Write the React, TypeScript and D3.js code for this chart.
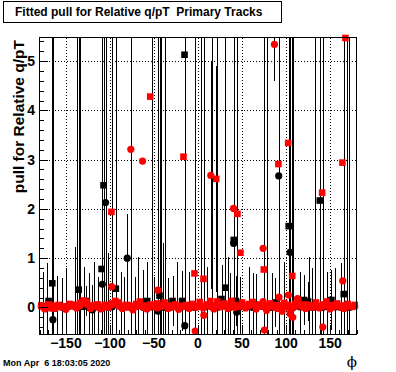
import React from "react";
import * as d3 from "d3";

// phi bins of the dense band near zero
const bandPhi = [
  -178, -174, -170, -166, -162, -158, -154, -150, -146, -142, -138, -134, -130, -126, -122,
  -118, -114, -110, -106, -102, -98, -94, -90, -86, -82, -78, -74, -70, -66, -62, -58, -54,
  -50, -46, -42, -38, -34, -30, -26, -22, -18, -14, -10, -6, -2, 2, 6, 10, 14, 18, 22, 26,
  30, 34, 38, 42, 46, 50, 54, 58, 62, 66, 70, 74, 78, 82, 86, 90, 94, 98, 102, 106, 110,
  114, 118, 122, 126, 130, 134, 138, 142, 146, 150, 154, 158, 162, 166, 170, 174, 178,
];
const redCircBand = [
  0.02, -0.03, 0.01, 0.04, -0.02, 0.03, 0.0, -0.04, 0.02, 0.05,
  -0.01, 0.03, 0.1, 0.06, -0.02, 0.04, 0.01, -0.03, 0.02, 0.0,
  0.05, 0.08, 0.03, -0.02, 0.01, 0.04, -0.05, 0.02, 0.06, 0.0,
  -0.03, 0.03, 0.01, -0.01, 0.02, 0.05, -0.02, 0.0, 0.03, -0.04,
  0.01, 0.02, -0.02, 0.04, 0.0, 0.03, -0.01, 0.05, 0.02, -0.03,
  0.06, 0.01, 0.03, -0.02, 0.04, 0.0, 0.02, 0.05, -0.01, 0.03,
  0.09, -0.03, 0.02, 0.12, -0.06, 0.04, 0.01, -0.02, 0.03, 0.05,
  0.0, -0.04, 0.02, 0.06, 0.01, -0.02, 0.04, 0.0, 0.03, -0.01,
  0.02, 0.05, -0.03, 0.01, 0.04, 0.0, -0.02, 0.03, 0.01, 0.02,
];
const redSqBand = [
  0.04, 0.01, 0.06, -0.02, 0.03, 0.05, 0.02, 0.0, 0.07, 0.03,
  0.05, 0.09, 0.14, 0.11, 0.04, 0.02, 0.06, 0.01, 0.05, 0.03,
  0.08, 0.13, 0.1, 0.02, 0.05, 0.0, 0.03, 0.07, 0.12, 0.04,
  0.01, 0.06, 0.03, 0.08, 0.02, 0.1, 0.04, 0.01, 0.06, 0.03,
  0.02, 0.05, 0.0, 0.07, 0.03, 0.11, 0.02, 0.06, 0.13, 0.04,
  0.12, 0.03, 0.08, 0.01, 0.13, 0.05, 0.02, 0.1, 0.04, 0.07,
  0.11, 0.03, 0.06, 0.02, 0.04, 0.08, 0.01, 0.05, 0.03, 0.09,
  0.05, 0.02, 0.07, 0.12, 0.03, 0.06, 0.01, 0.04, 0.1, 0.03,
  0.06, 0.12, 0.02, 0.05, 0.08, 0.03, 0.04, 0.07, 0.02, 0.05,
];

// [phi, pull, error]
const blackSquares: [number, number, number][] = [
  [-15.3, 5.13, 8], [-107.3, 2.48, 6], [-109.5, 0.78, 6], [-165.5, 0.49, 6],
  [-93.3, 0.38, 6], [-169.7, 0.13, 0], [-135.5, 0.36, 6], [-127.7, 0.13, 0.3],
  [-43.7, 0.24, 6], [-57.7, 0.13, 0.8], [-28.9, 0.13, 0.5], [-18, 0.13, 0.6],
  [30.9, 0.4, 6], [40.6, 1.37, 6], [26.7, 0.17, 0.7], [43, 0.13, 0.5],
  [138.3, 2.17, 6], [103, 1.65, 6], [120.5, 0.15, 0.5], [151.5, 0.15, 0.6],
  [165.5, 0.27, 6], [88, 0.1, 0.5], [125, 0.12, 0.4],
];
const blackCircles: [number, number, number][] = [
  [-164.8, -0.25, 6], [-105, 2.13, 6], [-108.7, 0.47, 1.5], [-80.4, 1.0, 0.9],
  [-45.3, -0.08, 6], [-15, -0.37, 6], [91.7, 2.67, 6], [104.6, 1.12, 6],
  [40.5, 1.3, 0.4], [44, -0.1, 6], [107, 0.0, 6], [-120, -0.05, 0.5],
];
// hidden black points inside the band, seen only through their error bars
const blackBand: [number, number, number][] = [
  [-176, 0.02, 0.7], [-172, 0.0, 0.9], [-160, 0.03, 0.6], [-150, 0.01, 0.8],
  [-140, 0.02, 1.2], [-137.5, 0.0, 6], [-134, 0.01, 6], [-124, 0.0, 0.7],
  [-118, 0.03, 0.9], [-114, 0.01, 0.6], [-102, 0.0, 1.1], [-97.7, 0.01, 6],
  [-88, 0.02, 0.7], [-76, 0.0, 6], [-72, 0.01, 0.6], [-68, 0.03, 1.0],
  [-62, 0.0, 0.75], [-52.6, 0.01, 6], [-50, 0.02, 0.6], [-42.4, 0.0, 6],
  [-40, 0.01, 1.3], [-37, 0.0, 6], [-34, 0.0, 0.6], [-24, 0.02, 0.9],
  [-10, 0.01, 0.7], [-3.7, 0.0, 6], [3.4, 0.02, 6], [6.8, 0.0, 6],
  [10, 0.03, 0.8], [16.2, 0.01, 6], [21.9, 0.0, 6], [34, 0.02, 1.0],
  [36, 0.0, 0.7], [48, 0.01, 0.6], [58, 0.02, 0.8],
  [62, 0.0, 0.7], [66, 0.03, 0.65], [75.3, 0.01, 6], [78, 0.01, 6],
  [84, 0.0, 0.7], [98, 0.02, 0.9], [108.2, 0.0, 6], [116, 0.01, 0.7],
  [126, 0.02, 1.0], [130, 0.0, 0.8], [133.2, 0.01, 6], [141.6, 0.0, 6],
  [146, 0.02, 0.7], [156, 0.01, 0.8], [162, 0.0, 0.9], [168.9, 0.02, 6],
  [171.8, 0.0, 6], [-154, 0.0, 0.6], [-130, 0.02, 0.8], [-84, 0.01, 0.6],
];
const redSquares: [number, number, number][] = [
  [167.4, 5.47, 0], [-54.3, 4.28, 0], [-16.5, 3.06, 0], [20.7, 2.61, 2.3],
  [91.3, 2.91, 0], [102.4, 3.34, 0], [164, 2.94, 0], [141, 2.33, 0],
  [-98.3, 1.94, 0], [44.8, 1.9, 0], [48.2, 1.11, 0], [-4, 0.69, 0],
  [6.2, 0.58, 0], [74.7, 0.77, 0], [107, 0.64, 0],
];
const redCircles: [number, number, number][] = [
  [86.8, 5.34, 0.74], [14.5, 2.68, 2.3], [-76.3, 3.21, 0.7], [-63, 2.97, 0],
  [40.4, 2.01, 0], [74, 1.2, 0], [75.5, -0.46, 0], [141.7, -0.4, 0],
  [164.4, 0.54, 0], [-98, 0.42, 0], [-45.6, 0.35, 0], [-3.2, -0.48, 0],
  [6.6, -0.16, 0], [92, 0.21, 0], [102.7, 0.25, 0], [113, 0.18, 0],
  [95.5, -0.08, 0], [104.6, -0.13, 0], [107.6, -0.2, 0],
];

const xMajor = [-150, -100, -50, 0, 50, 100, 150];
const yMajor = [0, 1, 2, 3, 4, 5];
const titleText = "Fitted pull for Relative q/pT  Primary Tracks";
const yTitle = "pull for Relative q/pT";
const xTitle = "\u03d5";
const dateText = "Mon Apr  6 18:03:05 2020";

const W = 396;
const H = 372;
const F = { left: 39.5, right: 356.5, top: 37.5, bottom: 334 };

export default function App() {
  const x = d3.scaleLinear().domain([-180, 180]).range([F.left, F.right]);
  const y = d3.scaleLinear().domain([-0.54, 5.48]).range([F.bottom, F.top]);
  const xMinor = d3.range(-180, 181, 10);
  const yMinor = d3.range(-0.4, 5.41, 0.2);
  const px = (v: number) => Math.round(x(v)) + 0.5;
  const py = (v: number) => Math.round(y(v)) + 0.5;
  const font = "'Liberation Sans', Arial, Helvetica, sans-serif";

  const redBandC = bandPhi.map((p, i) => [p, redCircBand[i], 0] as [number, number, number]);
  const redBandS = bandPhi.map((p, i) => [p, redSqBand[i], 0] as [number, number, number]);

  const errBars = (pts: [number, number, number][]) =>
    pts
      .filter((d) => d[2] > 0)
      .map((d, i) => (
        <line key={i} x1={px(d[0])} x2={px(d[0])} y1={y(d[1] - d[2])} y2={y(d[1] + d[2])}
          stroke="#000" strokeWidth={1} shapeRendering="crispEdges" />
      ));
  const circles = (pts: [number, number, number][], color: string) =>
    pts.map((d, i) => <circle key={i} cx={x(d[0])} cy={y(d[1])} r={3.6} fill={color} />);
  const squares = (pts: [number, number, number][], color: string) =>
    pts.map((d, i) => (
      <rect key={i} x={x(d[0]) - 3.3} y={y(d[1]) - 3.3} width={6.6} height={6.6} fill={color} />
    ));

  return (
    <svg width={W} height={H} style={{ position: "absolute", left: 0, top: 0, background: "#fff" }}
      fontFamily={font}>
      <defs>
        <clipPath id="frame">
          <rect x={F.left} y={F.top} width={F.right - F.left} height={F.bottom - F.top} />
        </clipPath>
      </defs>
      <rect width={W} height={H} fill="#fff" />

      {/* grid */}
      <g stroke="#000" strokeWidth={1} strokeDasharray="1 2" shapeRendering="crispEdges">
        {xMajor.map((t) => (
          <line key={t} x1={px(t)} x2={px(t)} y1={F.top} y2={F.bottom} />
        ))}
        {yMajor.map((t) => (
          <line key={t} x1={F.left} x2={F.right} y1={py(t)} y2={py(t)} />
        ))}
      </g>

      {/* error bars */}
      <g clipPath="url(#frame)">
        {errBars(blackBand)}
        {errBars(blackSquares)}
        {errBars(blackCircles)}
        {errBars(redSquares)}
        {errBars(redCircles)}
      </g>

      {/* markers */}
      <g>
        {circles(blackBand, "#000")}
        {squares(blackSquares, "#000")}
        {circles(blackCircles, "#000")}
        {circles(redBandC, "#ff0000")}
        {squares(redBandS, "#ff0000")}
        {squares(redSquares, "#ff0000")}
        {circles(redCircles, "#ff0000")}
      </g>

      {/* frame */}
      <rect x={F.left} y={F.top} width={F.right - F.left} height={F.bottom - F.top}
        fill="none" stroke="#000" strokeWidth={1} shapeRendering="crispEdges" />

      {/* axis ticks */}
      <g stroke="#000" strokeWidth={1} shapeRendering="crispEdges">
        {xMinor.map((t) => (
          <line key={"xm" + t} x1={px(t)} x2={px(t)} y1={F.bottom}
            y2={F.bottom - (t % 50 === 0 ? 9 : 4.5)} />
        ))}
        {xMajor.map((t) => (
          <line key={"xM" + t} x1={px(t)} x2={px(t)} y1={F.bottom} y2={F.bottom - 9} />
        ))}
        {yMinor.map((t, i) => (
          <line key={"ym" + i} x1={F.left} x2={F.left + 4} y1={py(t)} y2={py(t)} />
        ))}
        {yMajor.map((t) => (
          <line key={"yM" + t} x1={F.left} x2={F.left + 8} y1={py(t)} y2={py(t)} />
        ))}
      </g>

      {/* tick labels */}
      <g fontSize={14} fontWeight="bold" fill="#000">
        {xMajor.map((t) => (
          <text key={t} x={x(t)} y={348} textAnchor="middle">
            {t < 0 ? "\u2212" + Math.abs(t) : String(t)}
          </text>
        ))}
        {yMajor.map((t) => (
          <text key={t} x={35} y={y(t) + 5} textAnchor="end">{t}</text>
        ))}
      </g>

      {/* axis titles */}
      <text transform="translate(24,40) rotate(-90)" textAnchor="end" fontSize={15.5}
        fontWeight="bold">{yTitle}</text>
      <text x={357} y={367} textAnchor="end" fontSize={15}
        fontFamily="'DejaVu Serif', 'Liberation Serif', serif">
        {xTitle}
      </text>

      {/* title box */}
      <rect x={3.5} y={1.5} width={278} height={21} fill="#fff" stroke="#000" strokeWidth={1}
        shapeRendering="crispEdges" />
      <text x={15} y={16} fontSize={12} fontWeight="bold" style={{ whiteSpace: "pre" }}>
        {titleText}
      </text>

      <text x={3} y={366} fontSize={9} fontWeight="bold" style={{ whiteSpace: "pre" }}>
        {dateText}
      </text>
    </svg>
  );
}
